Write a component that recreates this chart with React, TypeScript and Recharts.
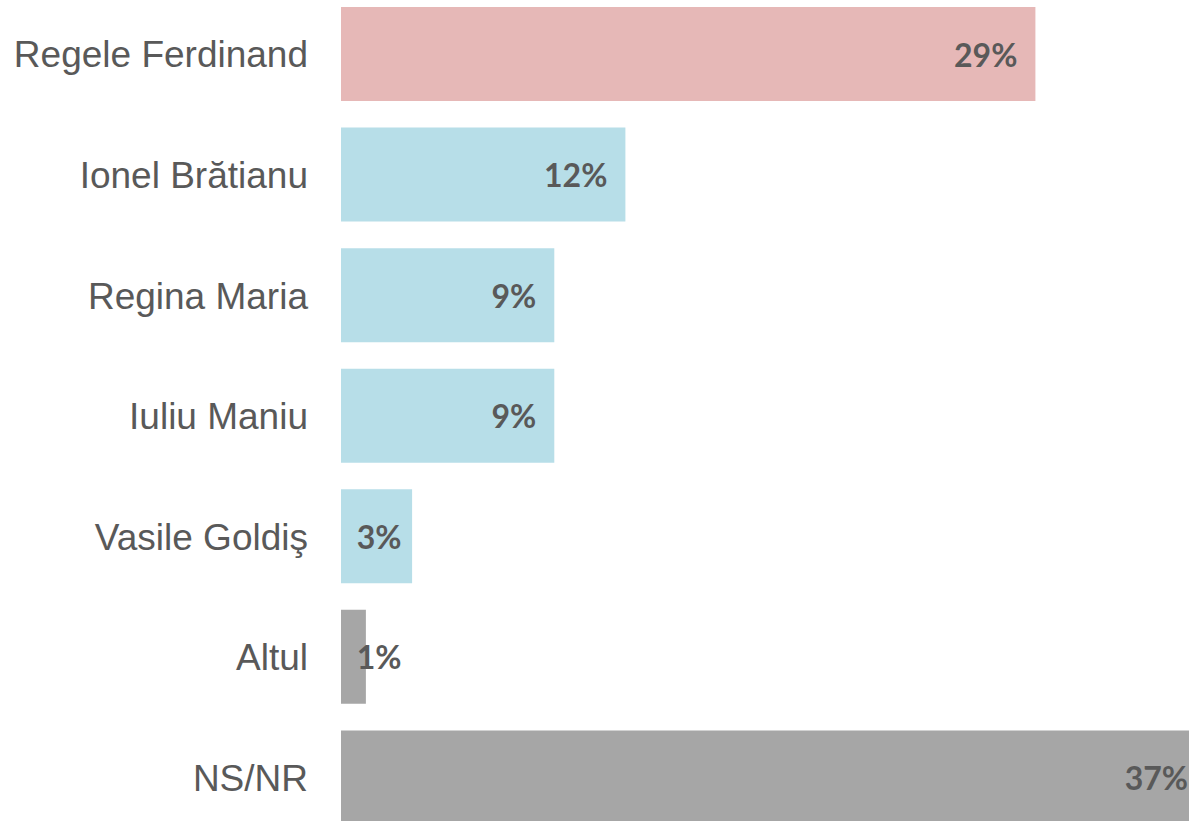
import React from "react";
import { BarChart, Bar, XAxis, YAxis, Cell, LabelList } from "recharts";

const CATEGORIES = [
  "Regele Ferdinand",
  "Ionel Brătianu",
  "Regina Maria",
  "Iuliu Maniu",
  "Vasile Goldiş",
  "Altul",
  "NS/NR",
];
const VALUES = [29.3, 12, 9, 9, 3, 1.05, 36.5];
const LABELS = ["29%", "12%", "9%", "9%", "3%", "1%", "37%"];
const COLORS = ["#E6B8B7", "#B7DEE8", "#B7DEE8", "#B7DEE8", "#B7DEE8", "#A6A6A6", "#A6A6A6"];

const TEXT = "#595959";
const LABEL_FONT = "Lato, 'Open Sans', sans-serif";
const CAT_FONT = "'Liberation Sans', Arial, sans-serif";

const rows = CATEGORIES.map((name, i) => ({ name, value: VALUES[i], label: LABELS[i] }));

// inside-end label, pushed right when the bar is too short to hold it
const ValueLabel = (props: any) => {
  const { x, y, width, height, index } = props;
  const text = LABELS[index];
  const estW = (text.length - 1) * 18.5 + 25;
  const end = Math.max(x + width - 18, x + 17 + estW);
  return (
    <text
      x={end}
      y={y + height / 2}
      textAnchor="end"
      dominantBaseline="central"
      fill={TEXT}
      fontFamily={LABEL_FONT}
      fontWeight={700}
      fontSize={32}
    >
      {text}
    </text>
  );
};

export default function App() {
  return (
    <div style={{ position: "absolute", left: 0, top: 0, width: 1189, height: 821, overflow: "hidden", background: "#fff" }}>
      <div style={{ marginTop: -6 }}>
        <BarChart
          width={1289}
          height={844}
          data={rows}
          layout="vertical"
          margin={{ top: 0, right: 0, bottom: 0, left: 0 }}
        >
          <XAxis type="number" domain={[0, 40]} hide />
          <YAxis
            type="category"
            dataKey="name"
            width={341}
            axisLine={false}
            tickLine={false}
            tickSize={0}
            tickMargin={33}
            tick={{ fill: TEXT, fontSize: 37, fontFamily: CAT_FONT }}
            interval={0}
          />
          <Bar dataKey="value" barSize={94} isAnimationActive={false}>
            {rows.map((r, i) => (
              <Cell key={r.name} fill={COLORS[i]} />
            ))}
            <LabelList dataKey="label" content={<ValueLabel />} />
          </Bar>
        </BarChart>
      </div>
    </div>
  );
}
